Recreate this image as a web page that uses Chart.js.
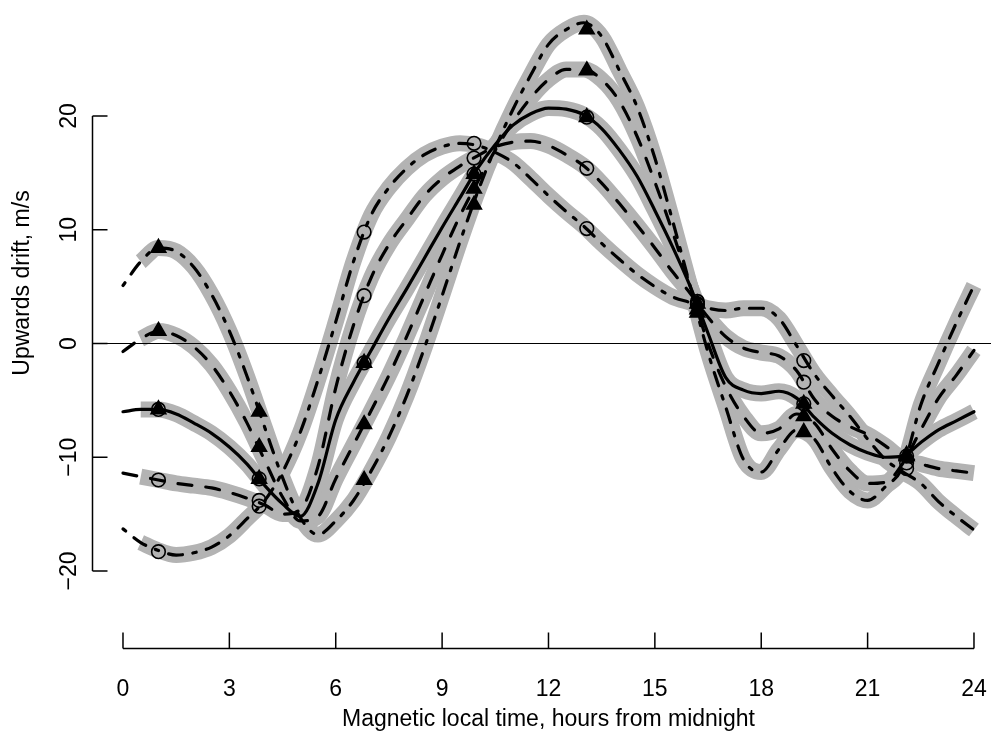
<!DOCTYPE html>
<html>
<head>
<meta charset="utf-8">
<script src="https://cdn.jsdelivr.net/npm/chart.js@4.4.1/dist/chart.umd.min.js"></script>
<style>
  html, body { margin: 0; padding: 0; background: #fff; }
</style>
</head>
<body>
<canvas id="drift" width="991" height="743"></canvas>
<script>
// Magnetic local time grid (hours), shared by the five mean curves
const hours = [0, 0.5, 1, 1.5, 2, 2.5, 3, 3.5, 4, 4.5, 5, 5.5, 6, 6.5, 7, 7.5, 8, 8.5,
  9, 9.5, 10, 10.5, 11, 11.5, 12, 12.5, 13, 13.5, 14, 14.5, 15, 15.5, 16, 16.5, 17,
  17.5, 18, 18.5, 19, 19.5, 20, 20.5, 21, 21.5, 22, 22.5, 23, 23.5, 24];

// upward drift, m/s
const driftA = [5.1, 7.2, 8.4, 8.1, 6.7, 4.3, 1.1, -2.9, -7.4, -11.8, -15.3, -16.8, -15.6, -13.8,
  -11.2, -8.2, -4.6, -0.4, 4.2, 8.9, 13.3, 17.2, 20.6, 23.6, 26.3, 27.6, 28.2, 27.0, 24.0, 20.8,
  16.3, 10.8, 5.0, -0.8, -5.6, -10.2, -11.3, -9.3, -7.6, -8.4, -11.0, -13.0, -13.8, -12.6, -10.8,
  -5.4, -1.7, 1.8, 5.1];
const driftB = [-0.7, 0.4, 1.1, 0.7, -0.3, -1.9, -4.2, -7.0, -10.3, -13.5, -15.6, -15.2, -11.9, -8.9,
  -5.9, -2.8, 0.6, 4.2, 7.8, 11.2, 14.2, 17.0, 19.5, 21.6, 23.2, 24.1, 24.1, 23.2, 21.3, 18.2,
  14.2, 9.8, 5.0, 0.0, -3.8, -6.4, -7.9, -7.5, -6.2, -7.0, -9.3, -11.2, -12.3, -12.2, -10.5,
  -7.6, -4.8, -2.8, -0.6];
const driftC = [-6.0, -5.8, -5.8, -6.2, -7.0, -7.9, -9.1, -10.6, -12.5, -14.1, -15.2, -12.3, -6.7, -3.4,
  -0.6, 2.2, 4.8, 7.5, 10.2, 12.8, 15.4, 17.5, 19.2, 20.2, 20.7, 20.6, 20.1, 18.9, 17.0, 14.7,
  11.7, 8.5, 5.0, 0.9, -3.0, -4.1, -4.4, -4.2, -4.8, -6.5, -7.9, -8.9, -9.6, -10.0, -9.9,
  -8.7, -7.6, -6.8, -6.0];
const driftD = [-11.4, -11.7, -12.0, -12.3, -12.5, -12.7, -13.1, -13.6, -14.2, -15.0, -14.6, -10.8, -3.9, 1.6,
  5.8, 8.7, 10.9, 13.0, 14.5, 15.6, 16.5, 17.3, 17.7, 17.8, 17.4, 16.6, 15.6, 14.1, 12.3, 10.4,
  8.4, 6.3, 4.4, 2.3, 0.6, -0.4, -0.8, -1.1, -2.4, -4.9, -6.4, -7.3, -8.0, -9.0, -10.2,
  -10.6, -11.0, -11.2, -11.4];
const driftE = [-16.3, -17.5, -18.2, -18.6, -18.4, -17.9, -16.9, -15.4, -13.8, -11.3, -7.8, -3.2, 1.9, 7.2,
  11.3, 13.7, 15.4, 16.6, 17.3, 17.6, 17.4, 16.8, 15.9, 14.5, 13.0, 11.6, 10.3, 8.8, 7.4, 6.1,
  5.0, 4.1, 3.6, 3.1, 2.9, 3.1, 3.1, 2.2, -0.2, -2.7, -4.6, -6.4, -8.4, -10.2, -11.3,
  -12.3, -13.9, -15.2, -16.4];

// symbols along each curve
const markHours = [1, 3.84, 6.8, 9.9, 13.08, 16.2, 19.2, 22.1];
const markA = [8.4, -6.0, -12.0, 12.2, 27.6, 2.7, -7.8, -9.8];
const markB = [1.1, -9.1, -7.1, 13.6, 24.0, 3.0, -6.4, -9.9];
const markC = [-5.8, -11.9, -1.7, 14.9, 19.9, 3.5, -5.3, -9.9];
const markD = [-12.0, -13.8, 4.2, 16.3, 15.4, 3.7, -3.4, -10.5];
const markE = [-18.3, -14.3, 9.8, 17.6, 10.1, 3.4, -1.5, -11.0];

const xTicks = [0, 3, 6, 9, 12, 15, 18, 21, 24];
const yTicks = [-20, -10, 0, 10, 20];

const FONT = '"Liberation Sans", Arial, sans-serif';
const FONT_SIZE = 23;
const DASHED = [14, 14];
const DOTDASH = [3.5, 10.5, 14, 10.5];

function pts(xs, ys) {
  return xs.map((x, i) => ({ x: x, y: ys[i] }));
}

// grey bundle behind every mean curve (starts at half past midnight)
function band(ys) {
  return {
    data: pts(hours.slice(1), ys.slice(1)),
    borderColor: '#b3b3b3',
    borderWidth: 16,
    borderCapStyle: 'butt',
    borderJoinStyle: 'round',
    cubicInterpolationMode: 'monotone',
    pointRadius: 0,
    order: 5
  };
}

function mean(ys, dash) {
  return {
    data: pts(hours, ys),
    borderColor: '#000',
    borderWidth: 3.2,
    borderDash: dash,
    borderCapStyle: 'round',
    borderJoinStyle: 'round',
    cubicInterpolationMode: 'monotone',
    pointRadius: 0,
    order: 3
  };
}

function marks(ys, style, filled) {
  return {
    data: pts(markHours, ys),
    showLine: false,
    pointStyle: style,
    pointRadius: style === 'triangle' ? 8.5 : 6.8,
    pointBorderWidth: 1.6,
    pointBorderColor: '#000',
    pointBackgroundColor: filled ? '#000' : 'rgba(0,0,0,0)',
    order: 1
  };
}

const zeroLine = {
  data: [{ x: -0.874, y: 0 }, { x: 24.48, y: 0 }],
  borderColor: '#000',
  borderWidth: 1.2,
  pointRadius: 0,
  order: 4
};

// keep the plot box fixed: no extra room for overhanging tick labels
function fixBox(size, key) {
  return s => {
    s[key] = size;
    s.paddingTop = s.paddingBottom = s.paddingLeft = s.paddingRight = 0;
  };
}

const baseAxes = {
  id: 'baseAxes',
  afterDraw(chart) {
    const { ctx, chartArea, scales: { x, y } } = chart;
    ctx.save();
    ctx.strokeStyle = '#000';
    ctx.lineWidth = 1.5;
    ctx.beginPath();
    // bottom axis, ticks pointing up into the plot
    const xb = chartArea.bottom - 0.5;
    ctx.moveTo(x.getPixelForValue(xTicks[0]), xb);
    ctx.lineTo(x.getPixelForValue(xTicks[xTicks.length - 1]), xb);
    xTicks.forEach(v => {
      const px = x.getPixelForValue(v);
      ctx.moveTo(px, xb);
      ctx.lineTo(px, xb - 16);
    });
    // left axis, ticks pointing right
    const yl = chartArea.left + 0.5;
    ctx.moveTo(yl, y.getPixelForValue(yTicks[0]));
    ctx.lineTo(yl, y.getPixelForValue(yTicks[yTicks.length - 1]));
    yTicks.forEach(v => {
      const py = y.getPixelForValue(v);
      ctx.moveTo(yl, py);
      ctx.lineTo(yl + 15, py);
    });
    ctx.stroke();

    ctx.fillStyle = '#000';
    ctx.font = FONT_SIZE + 'px ' + FONT;
    ctx.textAlign = 'center';
    ctx.textBaseline = 'middle';
    const cx = (x.getPixelForValue(0) + x.getPixelForValue(24)) / 2;
    ctx.fillText('Magnetic local time, hours from midnight', cx, 720);
    ctx.translate(23, 283);
    ctx.rotate(-Math.PI / 2);
    ctx.fillText('Upwards drift, m/s', 0, 0);
    ctx.restore();
  }
};

new Chart(document.getElementById('drift'), {
  type: 'line',
  data: {
    datasets: [
      band(driftA), band(driftB), band(driftC), band(driftD), band(driftE),
      zeroLine,
      mean(driftA, DOTDASH), mean(driftB, DASHED), mean(driftC, []),
      mean(driftD, DASHED), mean(driftE, DOTDASH),
      marks(markA, 'triangle', true), marks(markB, 'triangle', true),
      marks(markC, 'triangle', true), marks(markC, 'circle', false),
      marks(markD, 'circle', false), marks(markE, 'circle', false)
    ]
  },
  options: {
    responsive: false,
    animation: false,
    layout: { padding: 0, autoPadding: false },
    plugins: { legend: { display: false }, tooltip: { enabled: false } },
    scales: {
      x: {
        type: 'linear',
        position: 'bottom',
        min: -0.874,
        max: 24.48,
        afterFit: fixBox(94, 'height'),
        afterBuildTicks: s => { s.ticks = xTicks.map(v => ({ value: v })); },
        grid: { display: false, drawTicks: false },
        border: { display: false },
        ticks: {
          color: '#000',
          font: { family: FONT, size: FONT_SIZE },
          padding: 27,
          maxRotation: 0,
          autoSkip: false
        }
      },
      y: {
        type: 'linear',
        position: 'left',
        min: -26.86,
        max: 30.2,
        afterFit: fixBox(92, 'width'),
        afterBuildTicks: s => { s.ticks = yTicks.map(v => ({ value: v })); },
        grid: { display: false, drawTicks: false },
        border: { display: false },
        ticks: {
          color: '#000',
          font: { family: FONT, size: FONT_SIZE },
          minRotation: 90,
          maxRotation: 90,
          crossAlign: 'center',
          padding: 3,
          autoSkip: false,
          callback: v => (v < 0 ? '\u2212' + Math.abs(v) : String(v))
        }
      }
    }
  },
  plugins: [baseAxes]
});
</script>
</body>
</html>
